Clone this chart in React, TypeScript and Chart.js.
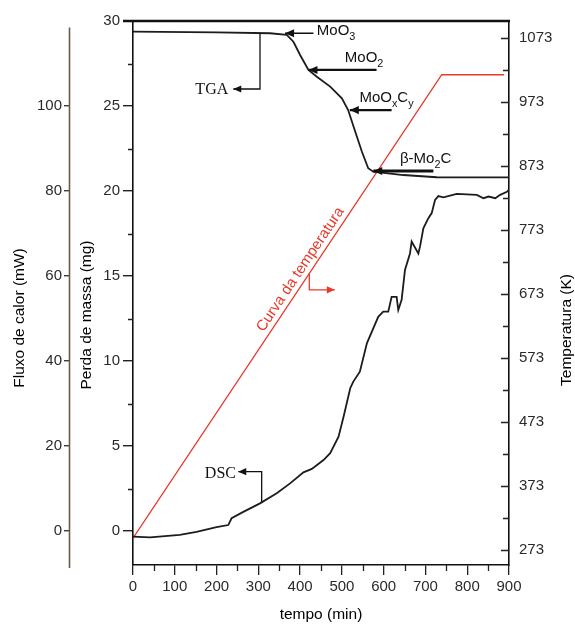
import React, { useEffect, useRef } from "react";
import { Chart, registerables } from "chart.js";

Chart.register(...registerables);

// ---------- data ----------
const timeTicks = [0, 100, 200, 300, 400, 500, 600, 700, 800, 900];
const timeMinorTicks = [50, 150, 250, 350, 450, 550, 650, 750, 850];
const massTicks = [0, 5, 10, 15, 20, 25, 30];
const massMinorTicks = [2.5, 7.5, 12.5, 17.5, 22.5, 27.5];
const fluxTicks = [0, 20, 40, 60, 80, 100];
const tempTicks = [273, 373, 473, 573, 673, 773, 873, 973, 1073];
const tempMinorTicks = [323, 423, 523, 623, 723, 823, 923, 1023];

// TGA (mass, mg) vs time (min)
const tgaTime = [0, 200, 328, 368, 384, 400, 420, 440, 472, 500, 515, 532, 548, 563, 575, 647, 727, 900];
const tgaMass = [29.37, 29.33, 29.28, 29.18, 28.78, 28.0, 27.12, 26.72, 26.14, 25.45, 24.76, 23.49, 22.31, 21.34, 21.14, 20.94, 20.81, 20.8];

// DSC (heat flow, mW) vs time (min)
const dscTime = [0, 41, 112, 152, 200, 228, 236, 264, 304, 344, 376, 408, 428, 456, 472, 492, 504, 520, 527, 543, 560, 587, 599, 611, 619, 631, 635, 643, 651, 663, 667, 683, 687, 695, 707, 715, 723, 731, 743, 775, 823, 839, 851, 867, 879, 895, 900];
const dscFlux = [-1.3, -1.5, -0.9, -0.2, 0.9, 1.4, 3.0, 4.5, 6.5, 8.9, 11.2, 13.8, 14.6, 16.7, 18.3, 22.2, 26.9, 33.6, 35.1, 37.5, 44.2, 50.4, 51.6, 51.6, 55.1, 55.1, 52.0, 54.4, 61.4, 65.3, 68.1, 65.3, 66.9, 71.2, 73.6, 74.8, 77.9, 78.8, 78.5, 79.3, 79.1, 78.3, 78.7, 78.3, 79.1, 79.8, 80.3];

// Temperature program (K) vs time (min)
const tempTime = [0, 739, 888];
const tempK = [292, 1016, 1016];

// Phase annotations (on the TGA curve)
const phaseNames = [
  [{ t: "MoO" }, { t: "3", sub: true }],
  [{ t: "MoO" }, { t: "2", sub: true }],
  [{ t: "MoO" }, { t: "x", sub: true }, { t: "C" }, { t: "y", sub: true }],
  [{ t: "β-Mo" }, { t: "2", sub: true }, { t: "C" }],
];
const phaseHeadTime = [364, 420, 519, 575];
const phaseTailTime = [432, 583, 619, 719];
const phaseArrowMass = [29.28, 27.12, 24.76, 21.18];
const phaseTextTime = [440, 507, 542, 639];
const phaseTextMass = [29.47, 27.9, 25.55, 21.95];

const SANS = '"Liberation Sans", Arial, Helvetica, sans-serif';
const SERIF = '"Liberation Serif", "Times New Roman", serif';

function drawArrow(ctx: CanvasRenderingContext2D, pts: number[][], lw: number, head: number, color: string) {
  ctx.save();
  ctx.strokeStyle = color;
  ctx.fillStyle = color;
  ctx.lineWidth = lw;
  ctx.lineJoin = "miter";
  ctx.beginPath();
  ctx.moveTo(pts[0][0], pts[0][1]);
  for (let i = 1; i < pts.length; i++) ctx.lineTo(pts[i][0], pts[i][1]);
  ctx.stroke();
  const [x1, y1] = pts[pts.length - 2];
  const [x2, y2] = pts[pts.length - 1];
  const a = Math.atan2(y2 - y1, x2 - x1);
  const hw = head * 0.45;
  const bx = x2 - head * Math.cos(a);
  const by = y2 - head * Math.sin(a);
  ctx.beginPath();
  ctx.moveTo(x2, y2);
  ctx.lineTo(bx + hw * Math.sin(a), by - hw * Math.cos(a));
  ctx.lineTo(bx - hw * Math.sin(a), by + hw * Math.cos(a));
  ctx.closePath();
  ctx.fill();
  ctx.restore();
}

function drawRich(ctx: CanvasRenderingContext2D, x: number, yMid: number, parts: any[], size: number) {
  ctx.save();
  ctx.fillStyle = "#111";
  ctx.textAlign = "left";
  ctx.textBaseline = "alphabetic";
  let cx = x;
  const base = yMid + size * 0.36;
  for (const p of parts) {
    const s = p.sub ? size * 0.72 : size;
    ctx.font = `${s}px ${SANS}`;
    ctx.fillText(p.t, cx, p.sub ? base + size * 0.3 : base);
    cx += ctx.measureText(p.t).width;
  }
  ctx.restore();
}

const decorPlugin = {
  id: "decor",
  afterDraw(chart: any) {
    const { ctx, scales, chartArea } = chart;
    const X = scales.x, M = scales.mass, F = scales.flux, T = scales.temp;
    const px = (v: number) => X.getPixelForValue(v);
    const pm = (v: number) => M.getPixelForValue(v);
    const pf = (v: number) => F.getPixelForValue(v);
    const pt = (v: number) => T.getPixelForValue(v);

    ctx.save();
    // top frame line
    ctx.strokeStyle = "#111";
    ctx.lineWidth = 2.5;
    ctx.beginPath();
    ctx.moveTo(chartArea.left - 10, chartArea.top);
    ctx.lineTo(chartArea.right + 1, chartArea.top);
    ctx.stroke();

    // minor ticks
    ctx.lineWidth = 1.3;
    ctx.strokeStyle = "#222";
    ctx.beginPath();
    for (const v of massMinorTicks) {
      const y = Math.round(pm(v)) + 0.5;
      ctx.moveTo(chartArea.left - 5, y);
      ctx.lineTo(chartArea.left, y);
    }
    for (const v of timeMinorTicks) {
      const x = Math.round(px(v)) + 0.5;
      ctx.moveTo(x, chartArea.bottom);
      ctx.lineTo(x, chartArea.bottom + 6);
    }
    for (const v of tempTicks) {
      const y = Math.round(pt(v)) + 0.5;
      ctx.moveTo(chartArea.right - 8, y);
      ctx.lineTo(chartArea.right, y);
    }
    for (const v of tempMinorTicks) {
      const y = Math.round(pt(v)) + 0.5;
      ctx.moveTo(chartArea.right - 6, y);
      ctx.lineTo(chartArea.right, y);
    }
    ctx.stroke();

    // outer heat-flow axis line
    ctx.strokeStyle = "#6b5a45";
    ctx.lineWidth = 1.6;
    ctx.beginPath();
    ctx.moveTo(F.right - 0.5, pf(118.5));
    ctx.lineTo(F.right - 0.5, pf(-8.7));
    ctx.stroke();

    // vertical axis titles
    ctx.fillStyle = "#000";
    ctx.font = `15.5px ${SANS}`;
    ctx.textAlign = "center";
    ctx.textBaseline = "middle";
    const vt = (text: string, x: number, y: number) => {
      ctx.save();
      ctx.translate(x, y);
      ctx.rotate(-Math.PI / 2);
      ctx.fillText(text, 0, 0);
      ctx.restore();
    };
    vt("Fluxo de calor (mW)", F.left + 20, 318);
    vt("Perda de massa (mg)", M.left + 16.5, 315);
    vt("Temperatura (K)", T.right - 8.5, 330);

    // phase arrows and names
    for (let i = 0; i < phaseNames.length; i++) {
      const y = pm(phaseArrowMass[i]);
      const lw = i === 0 ? 1.5 : i === 3 ? 3 : 2.2;
      drawArrow(ctx, [[px(phaseTailTime[i]), y], [px(phaseHeadTime[i]), y]], lw, 9, "#111");
      drawRich(ctx, px(phaseTextTime[i]), pm(phaseTextMass[i]), phaseNames[i], 15);
    }

    // TGA label
    drawArrow(ctx, [[px(304), pm(29.3)], [px(304), pm(26.0)], [px(240), pm(26.0)]], 1.3, 8, "#111");
    ctx.font = `16px ${SERIF}`;
    ctx.fillStyle = "#111";
    ctx.textAlign = "right";
    ctx.textBaseline = "middle";
    ctx.fillText("TGA", px(228), pm(26.0) + 1);

    // DSC label
    drawArrow(ctx, [[px(308), pf(6.8)], [px(308), pf(13.95)], [px(252), pf(13.95)]], 1.3, 8, "#111");
    ctx.fillText("DSC", px(246.5), pf(13.7) + 1);

    // temperature curve label and pointer
    const x0 = px(tempTime[0]), y0 = pt(tempK[0]);
    const x1 = px(tempTime[1]), y1 = pt(tempK[1]);
    const ang = Math.atan2(y1 - y0, x1 - x0);
    const tAnchor = 420;
    const kAnchor = tempK[0] + (tempK[1] - tempK[0]) * (tAnchor - tempTime[0]) / (tempTime[1] - tempTime[0]);
    ctx.save();
    ctx.translate(px(tAnchor), pt(kAnchor));
    ctx.rotate(ang);
    ctx.fillStyle = "#e8392b";
    ctx.font = `15px ${SANS}`;
    ctx.textAlign = "center";
    ctx.textBaseline = "bottom";
    ctx.fillText("Curva da temperatura", 0, -2);
    ctx.restore();
    const kStart = tempK[0] + (tempK[1] - tempK[0]) * (422 - tempTime[0]) / (tempTime[1] - tempTime[0]);
    drawArrow(ctx, [[px(422), pt(kStart)], [px(422), pt(680)], [px(483), pt(680)]], 1.3, 8, "#e8392b");

    ctx.restore();
  },
};

const plain = (v: any) => String(v);

export default function App() {
  const ref = useRef<HTMLCanvasElement | null>(null);

  useEffect(() => {
    if (!ref.current) return;
    const tickFont = { family: SANS, size: 15 };
    const chart = new Chart(ref.current, {
      type: "line",
      data: {
        datasets: [
          {
            label: "TGA",
            data: tgaTime.map((t, i) => ({ x: t, y: tgaMass[i] })),
            yAxisID: "mass",
            borderColor: "#1c1c1c",
            borderWidth: 1.8,
            pointRadius: 0,
            tension: 0,
            fill: false,
          },
          {
            label: "DSC",
            data: dscTime.map((t, i) => ({ x: t, y: dscFlux[i] })),
            yAxisID: "flux",
            borderColor: "#1c1c1c",
            borderWidth: 1.8,
            pointRadius: 0,
            tension: 0,
            fill: false,
          },
          {
            label: "Curva da temperatura",
            data: tempTime.map((t, i) => ({ x: t, y: tempK[i] })),
            yAxisID: "temp",
            borderColor: "#e8392b",
            borderWidth: 1.3,
            pointRadius: 0,
            tension: 0,
            fill: false,
          },
        ],
      },
      options: {
        animation: false,
        responsive: false,
        layout: { padding: { top: 21, left: 0, right: 0, bottom: 0 } },
        plugins: { legend: { display: false }, tooltip: { enabled: false } },
        scales: {
          x: {
            type: "linear",
            position: "bottom",
            min: 0,
            max: 900,
            afterBuildTicks: (s: any) => { s.ticks = timeTicks.map((v) => ({ value: v })); },
            afterFit: (s: any) => { s.height = 59; },
            grid: { drawOnChartArea: false, drawTicks: true, tickLength: 10, color: "#222", lineWidth: 1.3 },
            border: { display: true, color: "#111", width: 1.6 },
            ticks: { font: tickFont, color: "#2a2a2a", padding: 3, maxRotation: 0, autoSkip: false, callback: plain },
            title: { display: true, text: "tempo (min)", font: { family: SANS, size: 15.5 }, color: "#000", padding: { top: 0, bottom: 0 } },
          },
          flux: {
            type: "linear",
            position: "left",
            weight: 2,
            min: -8,
            max: 120,
            afterBuildTicks: (s: any) => { s.ticks = fluxTicks.map((v) => ({ value: v })); },
            afterFit: (s: any) => { s.width = 70; },
            grid: { drawOnChartArea: false, drawTicks: true, tickLength: 6, color: "#3a3a3a", lineWidth: 1.4 },
            border: { display: false },
            ticks: { font: tickFont, color: "#2a2a2a", padding: 2, callback: plain },
          },
          mass: {
            type: "linear",
            position: "left",
            weight: 1,
            min: -2,
            max: 30,
            afterBuildTicks: (s: any) => { s.ticks = massTicks.map((v) => ({ value: v })); },
            afterFit: (s: any) => { s.width = 63; },
            grid: { drawOnChartArea: false, drawTicks: true, tickLength: 10, color: "#222", lineWidth: 1.4 },
            border: { display: true, color: "#111", width: 1.6 },
            ticks: { font: tickFont, color: "#2a2a2a", padding: 3, callback: plain },
          },
          temp: {
            type: "linear",
            position: "right",
            min: 250,
            max: 1100,
            afterBuildTicks: (s: any) => { s.ticks = tempTicks.map((v) => ({ value: v })); },
            afterFit: (s: any) => { s.width = 66; },
            grid: { drawOnChartArea: false, drawTicks: false },
            border: { display: true, color: "#111", width: 1.6 },
            ticks: { font: tickFont, color: "#2a2a2a", padding: 10, callback: plain },
          },
        },
      } as any,
      plugins: [decorPlugin],
    });
    return () => chart.destroy();
  }, []);

  return (
    <div style={{ position: "fixed", left: 0, top: 0, width: 575, height: 624, background: "#fff" }}>
      <canvas ref={ref} width={575} height={624} style={{ display: "block" }} />
    </div>
  );
}
